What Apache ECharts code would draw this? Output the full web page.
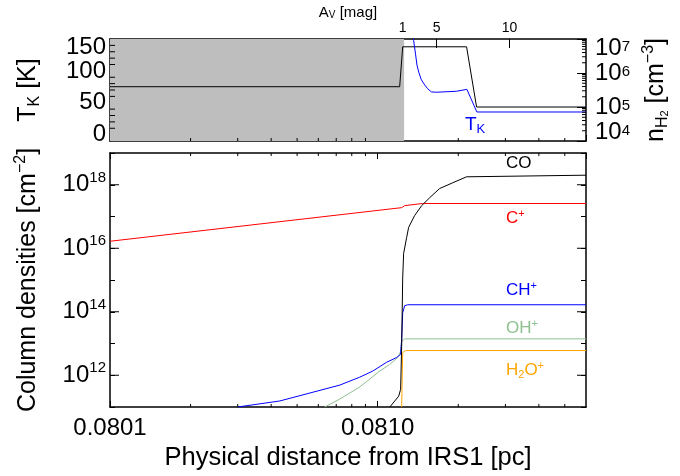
<!DOCTYPE html>
<html>
<head>
<meta charset="utf-8">
<script src="https://cdn.jsdelivr.net/npm/echarts@6/dist/echarts.min.js"></script>
<style>
  html, body { margin: 0; padding: 0; background: #fff; }
  #chart { width: 680px; height: 476px; }
</style>
</head>
<body>
<div id="chart"></div>
<script>
// x values are the offset from 0.08 pc, the x axis is log of that offset
var X0 = 0.08
var xMin = 0.0001
var xMax = 0.006

// top panel: kinetic temperature and density
var tkX = [0.001345, 0.001362, 0.001386, 0.001402, 0.001426, 0.001456, 0.001498, 0.001537, 0.001587, 0.001656, 0.001966, 0.002154, 0.002347, 0.006]
var tkY = [175, 148, 125, 109, 97, 86, 78, 72, 67, 66.5, 68, 71, 35.5, 35.5]
var nX = [0.0001, 0.001208, 0.00124, 0.002148, 0.002341, 0.006]
var nY = [3.95e5, 3.95e5, 5.9e6, 5.9e6, 1.0e5, 1.0e5]
var shadeEnd = 0.001255
var avPos = [0.00124, 0.00166, 0.00311]
var avLabels = ['1', '5', '10']
var tkTicks = [0, 50, 100, 150]
var tkMinor = [10, 20, 30, 40, 60, 70, 80, 90, 110, 120, 130, 140]
var nMinor = [2e4, 3e4, 4e4, 5e4, 6e4, 7e4, 8e4, 9e4, 2e5, 3e5, 4e5, 5e5, 6e5, 7e5, 8e5, 9e5, 2e6, 3e6, 4e6, 5e6, 6e6, 7e6, 8e6, 9e6]

// bottom panel: column densities
var cpX = [0.0001, 0.001229, 0.001261, 0.001472, 0.006]
var cpY = [1.66e16, 1.9e17, 2.2e17, 2.57e17, 2.57e17]
var coX = [0.00111, 0.001198, 0.001218, 0.001229, 0.00124, 0.00125, 0.001283, 0.001305, 0.001374, 0.001459, 0.001563, 0.001703, 0.001905, 0.002148, 0.006]
var coY = [1e11, 2.19e11, 3.6e11, 8.1e12, 1.15e15, 6.9e15, 2.19e16, 4.57e16, 1.07e17, 2.19e17, 3.89e17, 7.59e17, 1.15e18, 1.78e18, 2.0e18]
var chX = [0.0003, 0.000431, 0.000722, 0.000857, 0.000958, 0.00108, 0.001178, 0.001218, 0.001229, 0.00124, 0.001261, 0.001294, 0.006]
var chY = [1e11, 1.55e11, 4.9e11, 8.7e11, 1.35e12, 2.57e12, 3.63e12, 4.57e12, 1.35e13, 9.3e13, 1.55e14, 1.66e14, 1.66e14]
var ohX = [0.000634, 0.000722, 0.000857, 0.001017, 0.001109, 0.001188, 0.001218, 0.001229, 0.001261, 0.006]
var ohY = [1e11, 1.78e11, 4.27e11, 1.35e12, 2.19e12, 3.63e12, 5.6e12, 1.15e13, 1.4e13, 1.4e13]
var h2oX = [0.001229, 0.00124, 0.001272, 0.006]
var h2oY = [1e11, 5.2e12, 6.0e12, 6.0e12]
var xMinor = [0.0002, 0.0003, 0.0004, 0.0005, 0.0006, 0.0007, 0.0008, 0.0009, 0.002, 0.003, 0.004, 0.005]
var colMajor = [1e12, 1e14, 1e16, 1e18]

var FONT = 'Liberation Sans, Arial, Helvetica, sans-serif'

function zip(xs, ys) {
  return xs.map(function (x, i) { return [x, ys[i]] })
}

function isDecade(v) {
  var e = Math.log10(v)
  return Math.abs(e - Math.round(e)) < 1e-6
}

// small tick marks drawn at the frame edges
function tickRender(params, api) {
  var cs = params.coordSys
  var dim = api.value(2)
  var len = api.value(3)
  var side = api.value(4)
  var p = api.coord([api.value(0), api.value(1)])
  var segs = []
  if (dim === 0) {
    if (side & 1) segs.push([p[0], cs.y + cs.height, p[0], cs.y + cs.height - len])
    if (side & 2) segs.push([p[0], cs.y, p[0], cs.y + len])
  } else {
    if (side & 1) segs.push([cs.x, p[1], cs.x + len, p[1]])
    if (side & 2) segs.push([cs.x + cs.width, p[1], cs.x + cs.width - len, p[1]])
  }
  return {
    type: 'group',
    children: segs.map(function (s) {
      return { type: 'line', shape: { x1: s[0], y1: s[1], x2: s[2], y2: s[3] }, style: { stroke: '#000', lineWidth: 1 } }
    })
  }
}

var frame = { show: true, onZero: false, lineStyle: { color: '#000', width: 1.5 } }
// 10^n labels; bottom panel lifts the exponent with padding
var colRich = {
  b: { fontSize: 24, lineHeight: 20, fontFamily: FONT, color: '#000' },
  sup: { fontSize: 15, lineHeight: 12, padding: [0, 0, 14, 0], fontFamily: FONT, color: '#000' }
}
// density axis keeps compact boxes so all four labels stay visible
var denRich = {
  b: { fontSize: 24, lineHeight: 18, fontFamily: FONT, color: '#000' },
  sup: { fontSize: 15, lineHeight: 12, verticalAlign: 'top', fontFamily: FONT, color: '#000' }
}
var nameRich = {
  a: { fontSize: 25, fontFamily: FONT, color: '#000', lineHeight: 30 },
  sub: { fontSize: 16, fontFamily: FONT, color: '#000', lineHeight: 16, verticalAlign: 'bottom' },
  sub2: { fontSize: 11, fontFamily: FONT, color: '#000', lineHeight: 8, verticalAlign: 'bottom' },
  sup: { fontSize: 16, fontFamily: FONT, color: '#000', lineHeight: 16, verticalAlign: 'top' }
}

var myChart = echarts.init(document.getElementById('chart'))
var option = {
  animation: false,
  backgroundColor: '#fff',
  grid: [
    { left: 110, top: 39, width: 476, height: 102 },
    { left: 110, top: 153, width: 476, height: 255 }
  ],
  xAxis: [
    {
      type: 'log', gridIndex: 0, position: 'bottom', min: xMin, max: xMax,
      axisLine: frame, axisTick: { inside: true, length: 6, lineStyle: { color: '#000' } },
      axisLabel: { show: false }, splitLine: { show: false }
    },
    {
      type: 'log', gridIndex: 0, position: 'top', min: xMin, max: xMax,
      axisLine: frame,
      axisTick: { inside: true, length: 9, customValues: avPos, lineStyle: { color: '#000' } },
      axisLabel: {
        customValues: avPos, margin: 4, fontSize: 14, fontFamily: FONT, color: '#000',
        formatter: function (v) {
          for (var i = 0; i < avPos.length; i++) {
            if (Math.abs(v - avPos[i]) < 1e-7) return avLabels[i]
          }
          return ''
        }
      },
      splitLine: { show: false },
      name: '{a|A}{sub|V}{a| [mag]}', nameLocation: 'middle', nameGap: 16,
      nameTextStyle: {
        rich: {
          a: { fontSize: 15, fontFamily: FONT, color: '#000' },
          sub: { fontSize: 10, fontFamily: FONT, color: '#000', verticalAlign: 'bottom', lineHeight: 10 }
        }
      }
    },
    {
      type: 'log', gridIndex: 1, position: 'bottom', min: xMin, max: xMax,
      axisLine: frame, axisTick: { inside: true, length: 6, lineStyle: { color: '#000' } },
      axisLabel: {
        margin: 9, fontSize: 24, fontFamily: FONT, color: '#000', showMaxLabel: false,
        formatter: function (v) { return isDecade(v) ? (X0 + v).toFixed(4) : '' }
      },
      splitLine: { show: false },
      name: 'Physical distance from IRS1 [pc]', nameLocation: 'middle', nameGap: 38,
      nameTextStyle: { fontSize: 25.5, fontFamily: FONT, color: '#000' }
    },
    {
      type: 'log', gridIndex: 1, position: 'top', min: xMin, max: xMax,
      axisLine: frame, axisTick: { inside: true, length: 6, lineStyle: { color: '#000' } },
      axisLabel: { show: false }, splitLine: { show: false }
    }
  ],
  yAxis: [
    {
      type: 'value', gridIndex: 0, position: 'left', min: -10, max: 150,
      axisLine: frame,
      axisTick: { inside: true, length: 9, customValues: tkTicks, lineStyle: { color: '#000' } },
      axisLabel: {
        customValues: tkTicks, margin: 4, fontSize: 24, lineHeight: 16, fontFamily: FONT, color: '#000',
        verticalAlignMaxLabel: 'top'
      },
      splitLine: { show: false },
      name: '{a|T}{sub|K}{a| [K]}', nameLocation: 'middle', nameRotate: 90, nameGap: 67,
      nameTextStyle: { rich: nameRich }
    },
    {
      type: 'log', gridIndex: 0, position: 'right', min: 1e4, max: 1e7,
      axisLine: frame, axisTick: { inside: true, length: 9, lineStyle: { color: '#000' } },
      axisLabel: {
        margin: 9, showMinLabel: true, showMaxLabel: true,
        verticalAlignMinLabel: 'bottom', verticalAlignMaxLabel: 'top',
        formatter: function (v) { return isDecade(v) ? '{b|10}{sup|' + Math.round(Math.log10(v)) + '}' : '' },
        rich: denRich
      },
      splitLine: { show: false },
      name: '{a|n}{sub|H}{sub2|2}{a| [cm}{sup|\u22123}{a|]}', nameLocation: 'middle', nameRotate: 90, nameGap: 37,
      nameTextStyle: { rich: nameRich }
    },
    {
      type: 'log', gridIndex: 1, position: 'left', min: 1e11, max: 1e19,
      axisLine: frame, axisTick: { inside: true, length: 5, lineStyle: { color: '#000' } },
      axisLabel: {
        margin: 4,
        formatter: function (v) {
          if (!isDecade(v)) return ''
          var e = Math.round(Math.log10(v))
          return e % 2 === 0 ? '{b|10}{sup|' + e + '}' : ''
        },
        rich: colRich
      },
      splitLine: { show: false },
      name: '{a|Column densities [cm}{sup|\u22122}{a|]}', nameLocation: 'middle', nameRotate: 90, nameGap: 67,
      nameTextStyle: { rich: nameRich }
    },
    {
      type: 'log', gridIndex: 1, position: 'right', min: 1e11, max: 1e19,
      axisLine: frame, axisTick: { inside: true, length: 5, lineStyle: { color: '#000' } },
      axisLabel: { show: false }, splitLine: { show: false }
    }
  ],
  series: [
    {
      name: 'nH', type: 'line', xAxisIndex: 0, yAxisIndex: 1, data: zip(nX, nY),
      showSymbol: false, lineStyle: { color: '#000', width: 1 }, itemStyle: { color: '#000' },
      markArea: {
        silent: true, itemStyle: { color: '#bebebe' },
        data: [[{ xAxis: xMin }, { xAxis: shadeEnd }]]
      }
    },
    {
      name: 'TK', type: 'line', xAxisIndex: 0, yAxisIndex: 0, data: zip(tkX, tkY),
      showSymbol: false, lineStyle: { color: '#0000ff', width: 1 }, itemStyle: { color: '#0000ff' }
    },
    {
      name: 'C+', type: 'line', xAxisIndex: 2, yAxisIndex: 2, data: zip(cpX, cpY),
      showSymbol: false, lineStyle: { color: '#ff0000', width: 1 }, itemStyle: { color: '#ff0000' }
    },
    {
      name: 'OH+', type: 'line', xAxisIndex: 2, yAxisIndex: 2, data: zip(ohX, ohY),
      showSymbol: false, lineStyle: { color: '#8fc08f', width: 1 }, itemStyle: { color: '#8fc08f' }
    },
    {
      name: 'CH+', type: 'line', xAxisIndex: 2, yAxisIndex: 2, data: zip(chX, chY),
      showSymbol: false, lineStyle: { color: '#0000ff', width: 1 }, itemStyle: { color: '#0000ff' }
    },
    {
      name: 'H2O+', type: 'line', xAxisIndex: 2, yAxisIndex: 2, data: zip(h2oX, h2oY),
      showSymbol: false, lineStyle: { color: '#ffa500', width: 1 }, itemStyle: { color: '#ffa500' }
    },
    {
      name: 'CO', type: 'line', xAxisIndex: 2, yAxisIndex: 2, data: zip(coX, coY),
      showSymbol: false, lineStyle: { color: '#000', width: 1 }, itemStyle: { color: '#000' }
    },
    {
      type: 'custom', xAxisIndex: 0, yAxisIndex: 0, silent: true, renderItem: tickRender,
      encode: { x: 0, y: 1 }, z: 5,
      data: xMinor.map(function (v) { return [v, 0, 0, 3, 1] })
        .concat(tkMinor.map(function (v) { return [xMin, v, 1, 5, 1] }))
    },
    {
      type: 'custom', xAxisIndex: 0, yAxisIndex: 1, silent: true, renderItem: tickRender,
      encode: { x: 0, y: 1 }, z: 5,
      data: nMinor.map(function (v) { return [xMin, v, 1, 4, 2] })
    },
    {
      type: 'custom', xAxisIndex: 2, yAxisIndex: 2, silent: true, renderItem: tickRender,
      encode: { x: 0, y: 1 }, z: 5,
      data: xMinor.map(function (v) { return [v, 1e12, 0, 3, 3] })
        .concat(colMajor.map(function (v) { return [xMin, v, 1, 9, 3] }))
    }
  ],
  graphic: [
    {
      type: 'text', x: 252, y: 114,
      style: {
        text: '{a|n}{s|H}{a|+2n}{s|H}{s2|2}', fill: '#000', textVerticalAlign: 'middle',
        rich: {
          a: { fontSize: 16, fontFamily: FONT, fill: '#000', lineHeight: 18 },
          s: { fontSize: 11, fontFamily: FONT, fill: '#000', lineHeight: 11, verticalAlign: 'bottom' },
          s2: { fontSize: 8, fontFamily: FONT, fill: '#000', lineHeight: 6, verticalAlign: 'bottom' }
        }
      }
    },
    {
      type: 'text', x: 465, y: 125,
      style: {
        text: '{a|T}{s|K}', fill: '#0000ff', textVerticalAlign: 'middle',
        rich: {
          a: { fontSize: 19, fontFamily: FONT, fill: '#0000ff', lineHeight: 22 },
          s: { fontSize: 13, fontFamily: FONT, fill: '#0000ff', lineHeight: 13, verticalAlign: 'bottom' }
        }
      }
    },
    { type: 'text', x: 506, y: 163, style: { text: 'CO', font: '17px ' + FONT, fill: '#000', textVerticalAlign: 'middle' } },
    {
      type: 'text', x: 506, y: 218,
      style: {
        text: '{a|C}{s|+}', textVerticalAlign: 'middle',
        rich: { a: { fontSize: 17, fontFamily: FONT, fill: '#ff0000', lineHeight: 20 }, s: { fontSize: 11, fontFamily: FONT, fill: '#ff0000', lineHeight: 11, verticalAlign: 'top' } }
      }
    },
    {
      type: 'text', x: 506, y: 290,
      style: {
        text: '{a|CH}{s|+}', textVerticalAlign: 'middle',
        rich: { a: { fontSize: 17, fontFamily: FONT, fill: '#0000ff', lineHeight: 20 }, s: { fontSize: 11, fontFamily: FONT, fill: '#0000ff', lineHeight: 11, verticalAlign: 'top' } }
      }
    },
    {
      type: 'text', x: 506, y: 328,
      style: {
        text: '{a|OH}{s|+}', textVerticalAlign: 'middle',
        rich: { a: { fontSize: 17, fontFamily: FONT, fill: '#8fc08f', lineHeight: 20 }, s: { fontSize: 11, fontFamily: FONT, fill: '#8fc08f', lineHeight: 11, verticalAlign: 'top' } }
      }
    },
    {
      type: 'text', x: 506, y: 370,
      style: {
        text: '{a|H}{b|2}{a|O}{s|+}', textVerticalAlign: 'middle',
        rich: {
          a: { fontSize: 17, fontFamily: FONT, fill: '#ffa500', lineHeight: 20 },
          b: { fontSize: 11, fontFamily: FONT, fill: '#ffa500', lineHeight: 11, verticalAlign: 'bottom' },
          s: { fontSize: 11, fontFamily: FONT, fill: '#ffa500', lineHeight: 11, verticalAlign: 'top' }
        }
      }
    }
  ]
}
myChart.setOption(option)
</script>
</body>
</html>
